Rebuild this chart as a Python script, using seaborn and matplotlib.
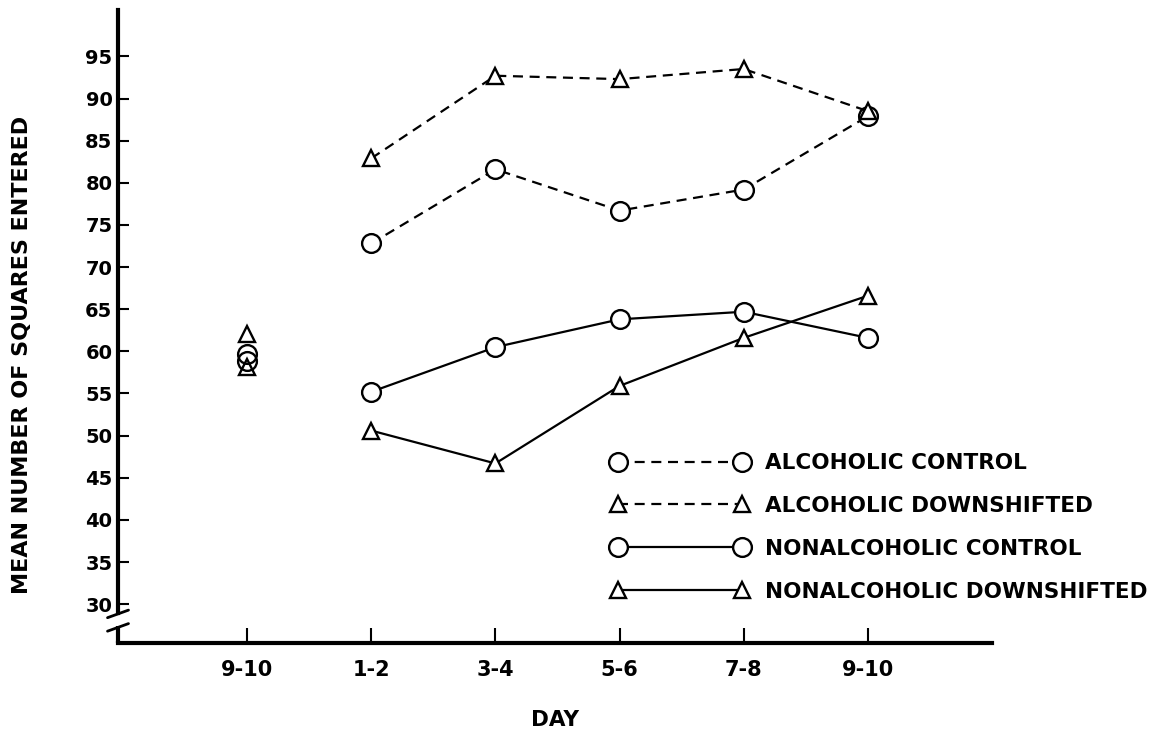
import matplotlib
matplotlib.use('Agg')
import matplotlib.pyplot as plt
import seaborn as sns
import numpy as np

#=====DATA=====
days = ["9-10", "1-2", "3-4", "5-6", "7-8", "9-10"]
test_days = [1, 2, 3, 4, 5]          # index of each test day on the axis
baseline_day = 0

alc_control = [72.8, 81.6, 76.7, 79.2, 87.9]
alc_down = [82.9, 92.7, 92.3, 93.5, 88.5]
nonalc_control = [55.2, 60.5, 63.8, 64.7, 61.6]
nonalc_down = [50.6, 46.7, 55.9, 61.6, 66.6]

# the pre-shift baseline, one point per group
base_circles = [59.7, 58.9]
base_triangles = [62.1, 58.2]

yticks = [30, 35, 40, 45, 50, 55, 60, 65, 70, 75, 80, 85, 90, 95]

#=====STYLE=====
sns.set_style("ticks", rc={'text.color': 'black', 'axes.labelcolor': 'black',
                           'xtick.color': 'black', 'ytick.color': 'black',
                           'axes.edgecolor': 'black'})
plt.rcParams['font.family'] = ['DejaVu Sans']
plt.rcParams['font.weight'] = 'bold'

fig = plt.figure(figsize=(11.66, 7.3), dpi=100)
ax = fig.add_axes([0.1012, 0.1192, 0.7496, 0.8671])

dashed = (0, (4.5, 3))
mk = dict(color='k', markerfacecolor='white', markeredgecolor='k', markeredgewidth=1.7, linewidth=1.6)

sns.lineplot(x=test_days, y=alc_control, marker='o', markersize=13.5, linestyle=dashed,
             label="ALCOHOLIC CONTROL", ax=ax, **mk)
sns.lineplot(x=test_days, y=alc_down, marker='^', markersize=12, linestyle=dashed,
             label="ALCOHOLIC DOWNSHIFTED", ax=ax, **mk)
sns.lineplot(x=test_days, y=nonalc_control, marker='o', markersize=13.5, linestyle='-',
             label="NONALCOHOLIC CONTROL", ax=ax, **mk)
sns.lineplot(x=test_days, y=nonalc_down, marker='^', markersize=12, linestyle='-',
             label="NONALCOHOLIC DOWNSHIFTED", ax=ax, **mk)

# baseline points (no line)
ax.plot([baseline_day] * len(base_circles), base_circles, linestyle='none', marker='o',
        markersize=13.5, markerfacecolor='none', markeredgecolor='k', markeredgewidth=1.7)
ax.plot([baseline_day] * len(base_triangles), base_triangles, linestyle='none', marker='^',
        markersize=12, markerfacecolor='none', markeredgecolor='k', markeredgewidth=1.7)

#=====AXES=====
ax.set_xlim(-1.04, 6.0)
ax.set_ylim(25.4, 100.5)
ax.set_xticks(range(len(days)))
ax.set_xticklabels(days)
ax.set_yticks(yticks)
ax.tick_params(axis='x', direction='in', length=11, width=1.5, labelsize=15, pad=12)
ax.tick_params(axis='y', direction='in', length=8, width=1.5, labelsize=14, pad=4)
for lab in ax.get_xticklabels() + ax.get_yticklabels():
    lab.set_fontweight('bold')

sns.despine(ax=ax)
ax.spines['bottom'].set_linewidth(3)
ax.spines['left'].set_linewidth(3)
ax.spines['left'].set_bounds(29.0, 100.5)

# axis break on the y axis
tr = ax.get_yaxis_transform()
ax.plot([0, 0], [25.4, 27.4], color='k', lw=3, transform=tr, clip_on=False, solid_capstyle='butt')
for yb in [27.4, 29.0]:
    ax.plot([-0.012, 0.012], [yb - 0.6, yb + 0.3], color='k', lw=2, transform=tr, clip_on=False)

ax.set_ylabel("MEAN NUMBER OF SQUARES ENTERED", fontsize=16, fontweight='bold')
ax.yaxis.set_label_coords(-0.098, 0.455)
ax.set_xlabel("DAY", fontsize=15.5, fontweight='bold', labelpad=22)

ax.legend(loc='upper left', bbox_to_anchor=(0.5647, 0.300), frameon=False, numpoints=2,
          handlelength=6.37, handletextpad=0.77, labelspacing=1.06, borderpad=0, borderaxespad=0,
          prop={'weight': 'bold', 'size': 15.5})

fig.savefig("out.png", dpi=100)
